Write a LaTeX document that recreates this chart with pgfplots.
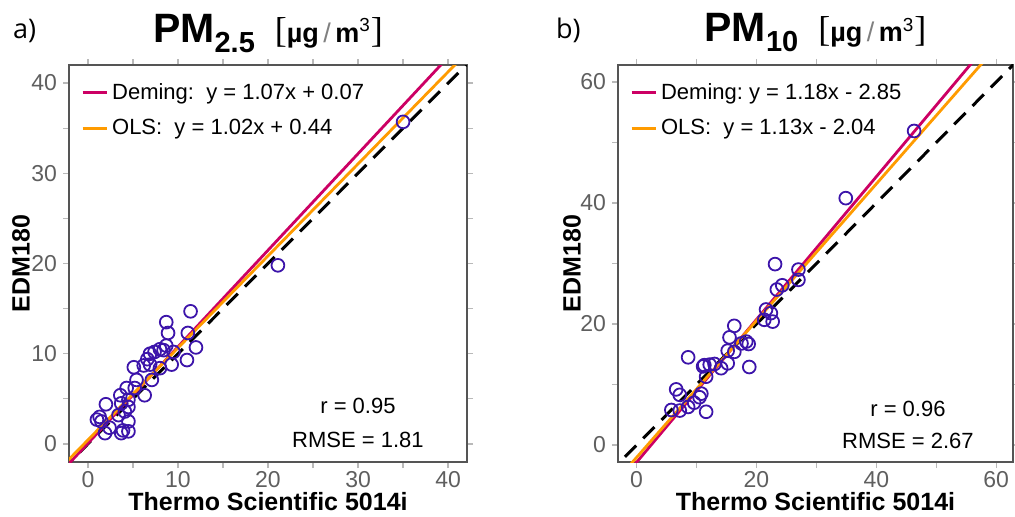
\documentclass[border=0pt]{standalone}
\usepackage{fontspec}
\setmainfont{Liberation Sans}
\newfontfamily\serifbr{Liberation Serif}
\newfontfamily\panelfont{Open Sans}
\usepackage{pgfplots}
\pgfplotsset{compat=1.18}

\definecolor{deming}{RGB}{204,0,100}
\definecolor{ols}{RGB}{255,155,0}
\definecolor{pts}{RGB}{60,20,170}
\definecolor{framegray}{RGB}{85,85,85}
\definecolor{tickgray}{RGB}{95,95,95}

\newcommand{\unitpart}{{\serifbr\fontsize{18}{18}\selectfont[}{\fontsize{13.5}{13}\selectfont\bfseries µg\,{\mdseries\color{gray}/}\,m\textsuperscript{\mdseries 3}}{\serifbr\fontsize{18}{18}\selectfont]}}

\pgfplotsset{
  pmaxis/.style={
    scale only axis, height=198.5pt,
    axis line style={framegray, line width=1pt},
    tick style={gray!55, line width=0.6pt},
    tick align=outside, tick pos=both,
    major tick length=3pt, minor tick length=3pt,
    ticklabel style={font=\fontsize{11.5}{13}\selectfont, text=tickgray},
    xticklabel style={yshift=2pt},
    yticklabel style={xshift=0.5pt},
    /pgf/number format/assume math mode=true,
    xlabel={Thermo Scientific 5014i}, ylabel={EDM180},
    label style={font=\fontsize{12.5}{14}\selectfont\bfseries},
    xlabel style={at={(axis description cs:0.5,0)}, anchor=base, yshift=-24.35pt},
    every axis title shift=0pt,
    title style={at={(axis description cs:0.5,1)}, anchor=base, yshift=11.5pt},
    legend style={draw=none, fill=none, anchor=north west, inner sep=0pt,
      font=\fontsize{11}{13}\selectfont, row sep=4.5pt,
      /tikz/every even column/.append style={column sep=3pt}},
    legend cell align=left,
    legend image code/.code={\draw[#1] (0pt,0pt) -- (12pt,0pt);},
  },
  idline/.style={black, line width=1.5pt, dash pattern=on 8pt off 5pt, forget plot},
  pointset/.style={only marks, mark=o, mark size=3.2pt, mark options={pts, line width=0.9pt}, forget plot},
}

\begin{document}
\begin{tikzpicture}
\useasboundingbox (0,0) rectangle (507.5pt,258pt);

\node[anchor=base west, font=\panelfont\fontsize{13.5}{14}\selectfont] at (3pt,239pt) {a)};
\node[anchor=base west, font=\panelfont\fontsize{13.5}{14}\selectfont] at (274.5pt,239pt) {b)};

% panel a: PM2.5
\begin{axis}[pmaxis, at={(34.5pt,27pt)}, anchor=south west, width=199pt,
  xmin=-2.1, xmax=42.1, ymin=-2, ymax=42,
  xtick={0,10,...,40}, ytick={0,10,...,40}, minor tick num=1,
  ylabel style={at={(axis description cs:-0.1206,0.5)}, anchor=center},
  legend style={at={(axis description cs:0.03,0.965)}},
  title={{\fontsize{20.5}{22}\selectfont\bfseries PM}\raisebox{-5pt}{\fontsize{14.5}{15}\selectfont\bfseries 2.5}\hspace{10pt}\unitpart},
]
\addplot[pointset] coordinates {
(11.4,14.7)(8.7,13.5)(8.9,12.3)(11.1,12.3)(12.0,10.7)(11.0,9.3)(9.3,8.8)(8.7,10.9)
(8.0,10.5)(7.4,10.2)(6.9,10.0)(6.6,9.4)(6.2,8.7)(6.9,8.8)(8.0,8.4)(5.1,8.5)
(5.4,7.1)(7.1,7.1)(5.2,6.2)(4.3,6.2)(3.6,5.4)(6.3,5.4)(4.5,4.9)(3.7,4.5)
(2.0,4.4)(4.5,4.1)(4.1,3.6)(3.4,3.2)(1.3,3.0)(1.5,2.5)(2.4,1.8)(1.9,1.2)
(4.5,2.5)(3.9,1.5)(4.5,1.4)(3.7,1.2)(1.0,2.7)(9.5,10.2)(8.4,10.4)
(21.1,19.8)(35.0,35.7)
};
\addplot[idline] coordinates {(-5,-5)(50,50)};
\addplot[deming, line width=1.4pt] coordinates {(-5,-5.28)(50,53.57)};
\addlegendentry{Deming:\ \ y = 1.07x + 0.07}
\addplot[ols, line width=1.4pt] coordinates {(-5,-4.66)(50,51.44)};
\addlegendentry{OLS:\ \ y = 1.02x + 0.44}
\node[font=\fontsize{11}{13}\selectfont] at (rel axis cs:0.726,0.141) {r = 0.95};
\node[font=\fontsize{11}{13}\selectfont] at (rel axis cs:0.726,0.055) {RMSE = 1.81};
\end{axis}

% panel b: PM10
\begin{axis}[pmaxis, at={(309pt,27pt)}, anchor=south west, width=197.5pt,
  xmin=-3.1, xmax=62.8, ymin=-2.8, ymax=62.8,
  xtick={0,20,...,60}, ytick={0,20,...,60}, minor tick num=1,
  ylabel style={at={(axis description cs:-0.1165,0.5)}, anchor=center},
  legend style={at={(axis description cs:0.03,0.965)}},
  title={{\fontsize{20.5}{22}\selectfont\bfseries PM}\raisebox{-5pt}{\fontsize{14.5}{15}\selectfont\bfseries 10}\hspace{10pt}\unitpart},
]
\addplot[pointset] coordinates {
(23.1,29.9)(27.0,29.0)(27.0,27.3)(24.3,26.4)(23.4,25.7)(21.6,22.4)(22.4,21.8)(21.3,20.7)
(22.7,20.4)(16.3,19.7)(15.5,17.8)(18.3,17.1)(18.7,16.7)(17.5,16.8)(16.3,15.4)(15.2,15.6)
(8.6,14.5)(18.8,12.9)(15.2,13.5)(14.1,12.7)(13.0,13.4)(11.3,13.2)(11.1,13.0)(11.6,11.3)
(12.2,13.3)(6.6,9.2)(7.2,8.3)(10.8,8.5)(10.5,7.9)(8.6,6.3)(5.8,5.8)(7.2,5.7)
(11.6,5.5)(9.6,7.0)(34.9,40.8)(46.3,51.9)
};
\addplot[idline] coordinates {(-5,-5)(70,70)};
\addplot[deming, line width=1.4pt] coordinates {(-5,-8.75)(70,79.75)};
\addlegendentry{Deming:\ y = 1.18x - 2.85}
\addplot[ols, line width=1.4pt] coordinates {(-5,-7.69)(70,77.06)};
\addlegendentry{OLS:\ \ y = 1.13x - 2.04}
\node[font=\fontsize{11}{13}\selectfont] at (rel axis cs:0.734,0.134) {r = 0.96};
\node[font=\fontsize{11}{13}\selectfont] at (rel axis cs:0.734,0.053) {RMSE = 2.67};
\end{axis}
\end{tikzpicture}
\end{document}
